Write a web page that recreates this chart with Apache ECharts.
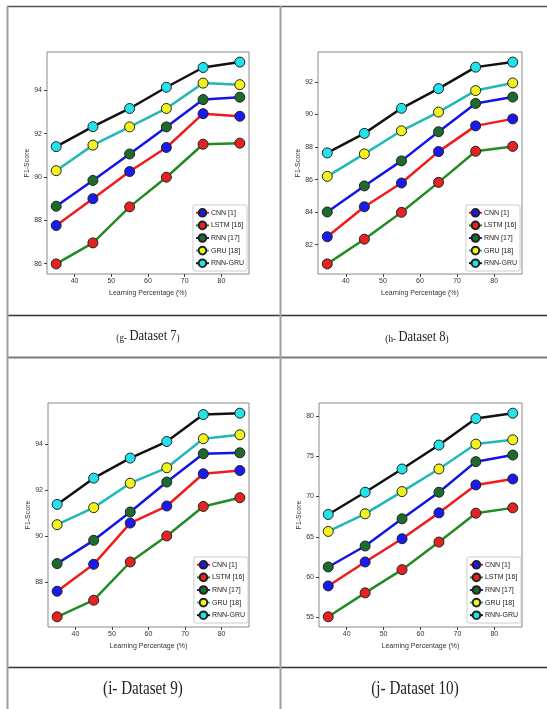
<!DOCTYPE html>
<html><head><meta charset="utf-8">
<script src="https://cdn.jsdelivr.net/npm/echarts@6/dist/echarts.min.js"></script>
<style>html,body{margin:0;padding:0;background:#fff}#c{width:547px;height:709px}</style>
</head><body><div id="c"></div>
<script>
// ---- data ----
const learningPct = [35, 45, 55, 65, 75, 85];
const seriesNames = ['CNN [1]', 'LSTM [16]', 'RNN [17]', 'GRU [18]', 'RNN-GRU'];
const xTicks = [40, 50, 60, 70, 80];

// Dataset 7
const ds7_cnn    = [87.76, 89.00, 90.25, 91.36, 92.92, 92.80];
const ds7_lstm   = [85.99, 86.96, 88.62, 89.99, 91.51, 91.56];
const ds7_rnn    = [88.65, 89.84, 91.06, 92.31, 93.57, 93.68];
const ds7_gru    = [90.29, 91.47, 92.31, 93.16, 94.33, 94.26];
const ds7_rnngru = [91.40, 92.32, 93.16, 94.14, 95.05, 95.30];
const ds7_yTicks = [86, 88, 90, 92, 94];

// Dataset 8
const ds8_cnn    = [82.49, 84.33, 85.79, 87.72, 89.30, 89.73];
const ds8_lstm   = [80.82, 82.34, 83.99, 85.83, 87.74, 88.04];
const ds8_rnn    = [84.01, 85.61, 87.15, 88.94, 90.68, 91.07];
const ds8_gru    = [86.20, 87.58, 89.00, 90.15, 91.47, 91.94];
const ds8_rnngru = [87.64, 88.84, 90.38, 91.59, 92.91, 93.22];
const ds8_yTicks = [82, 84, 86, 88, 90, 92];

// Dataset 9
const ds9_cnn    = [87.60, 88.77, 90.56, 91.30, 92.70, 92.84];
const ds9_lstm   = [86.49, 87.21, 88.87, 90.00, 91.28, 91.66];
const ds9_rnn    = [88.80, 89.81, 91.04, 92.34, 93.57, 93.61];
const ds9_gru    = [90.49, 91.23, 92.29, 92.96, 94.22, 94.39];
const ds9_rnngru = [91.37, 92.51, 93.38, 94.10, 95.27, 95.33];
const ds9_yTicks = [88, 90, 92, 94];

// Dataset 10
const ds10_cnn    = [58.91, 61.88, 64.76, 67.97, 71.43, 72.17];
const ds10_lstm   = [55.08, 58.05, 60.93, 64.35, 67.93, 68.59];
const ds10_rnn    = [61.26, 63.86, 67.23, 70.53, 74.32, 75.14];
const ds10_gru    = [65.67, 67.85, 70.61, 73.41, 76.50, 77.03];
const ds10_rnngru = [67.77, 70.53, 73.41, 76.38, 79.67, 80.33];
const ds10_yTicks = [55, 60, 65, 70, 75, 80];

const captionPrefix = ['(g-', '(h-', '(i-', '(j-'];
const captionTitle = ['Dataset 7', 'Dataset 8', 'Dataset 9', 'Dataset 10'];

// ---- styles ----
const lineColors   = ['#f01c1c', '#238b23', '#1414e6', '#22b8b8', '#111111'];
const markerColors = ['#1a1af0', '#e42222', '#1c6a2c', '#f2f21e', '#22e2ea'];

const panels = [
  { data: [ds7_cnn, ds7_lstm, ds7_rnn, ds7_gru, ds7_rnngru], yTicks: ds7_yTicks,
    grid: { left: 47, top: 52, width: 202, height: 222 }, legend: { right: 300, top: 205 },
    cap: { x: 148, y: 336, small: true } },
  { data: [ds8_cnn, ds8_lstm, ds8_rnn, ds8_gru, ds8_rnngru], yTicks: ds8_yTicks,
    grid: { left: 318, top: 52, width: 204, height: 222 }, legend: { right: 27, top: 205 },
    cap: { x: 417, y: 337, small: true } },
  { data: [ds9_cnn, ds9_lstm, ds9_rnn, ds9_gru, ds9_rnngru], yTicks: ds9_yTicks,
    grid: { left: 48, top: 403, width: 201, height: 224 }, legend: { right: 299, top: 557 },
    cap: { x: 143, y: 689, small: false } },
  { data: [ds10_cnn, ds10_lstm, ds10_rnn, ds10_gru, ds10_rnngru], yTicks: ds10_yTicks,
    grid: { left: 319, top: 403, width: 203, height: 224 }, legend: { right: 26, top: 557 },
    cap: { x: 415, y: 689, small: false } }
];

const axisFont = 'Liberation Sans';
const grid = [], xAxis = [], yAxis = [], series = [], legend = [], graphic = [];

panels.forEach((p, k) => {
  const all = [].concat(...p.data);
  const lo = Math.min(...all), hi = Math.max(...all), pad = (hi - lo) * 0.05;
  grid.push(Object.assign({ show: true, borderColor: '#8a8a8a', borderWidth: 1, backgroundColor: '#fff' }, p.grid));
  xAxis.push({
    gridIndex: k, type: 'value', min: 32.5, max: 87.5,
    name: 'Learning Percentage (%)', nameLocation: 'middle', nameGap: 16,
    nameTextStyle: { fontSize: 7, color: '#333', fontFamily: axisFont },
    axisLine: { show: false },
    axisTick: { show: true, length: 3, inside: false, customValues: xTicks, lineStyle: { color: '#444' } },
    axisLabel: { customValues: xTicks, fontSize: 7, color: '#333', margin: 4, fontFamily: axisFont },
    splitLine: { show: false }
  });
  yAxis.push({
    gridIndex: k, type: 'value', min: lo - pad, max: hi + pad,
    name: 'F1-Score', nameLocation: 'middle', nameGap: 12,
    nameTextStyle: { fontSize: 7, color: '#333', fontFamily: axisFont },
    axisLine: { show: false },
    axisTick: { show: true, length: 3, inside: false, customValues: p.yTicks, lineStyle: { color: '#444' } },
    axisLabel: { customValues: p.yTicks, fontSize: 7, color: '#333', margin: 5, fontFamily: axisFont },
    splitLine: { show: false }
  });
  p.data.forEach((vals, s) => {
    series.push({
      type: 'line', name: seriesNames[s], xAxisIndex: k, yAxisIndex: k,
      data: learningPct.map((x, i) => [x, vals[i]]),
      symbol: 'circle', symbolSize: 10,
      lineStyle: { color: lineColors[s], width: 2.5 },
      itemStyle: { color: markerColors[s], borderColor: '#222', borderWidth: 1 },
      emphasis: { disabled: true },
      animation: false
    });
  });
  legend.push({
    data: seriesNames, orient: 'vertical', right: p.legend.right, top: p.legend.top,
    itemWidth: 13, itemHeight: 9.5, itemGap: 3,
    padding: [3, 3, 3, 2], backgroundColor: '#fff', borderColor: '#cccccc', borderWidth: 1, borderRadius: 2,
    textStyle: { fontSize: 7, color: '#222', fontFamily: axisFont, padding: [0, 0, 0, -3] },
    selectedMode: false
  });
  graphic.push({
    type: 'text', x: p.cap.x, y: p.cap.y, scaleX: 0.84, z: 10,
    style: {
      text: p.cap.small ? '{s|' + captionPrefix[k] + ' }{b|' + captionTitle[k] + '}{s|)}'
                        : '{b|' + captionPrefix[k] + ' ' + captionTitle[k] + ')}',
      align: 'center', verticalAlign: 'middle',
      rich: {
        s: { fontFamily: 'Liberation Serif', fontSize: p.cap.small ? 11 : 18, fill: '#222', verticalAlign: 'bottom' },
        b: { fontFamily: 'Liberation Serif', fontSize: p.cap.small ? 15 : 18, fill: '#222', verticalAlign: 'bottom' }
      }
    }
  });
});

// table borders
const hLine = (y, c, w) => ({ type: 'line', z: 5, shape: { x1: 7, y1: y, x2: 547, y2: y }, style: { stroke: c, lineWidth: w } });
const vLine = (x, c, w) => ({ type: 'line', z: 5, shape: { x1: x, y1: 6, x2: x, y2: 709 }, style: { stroke: c, lineWidth: w } });
graphic.push(hLine(6.5, '#555', 1.5), hLine(315.5, '#333', 1.3), hLine(357.5, '#7a7a7a', 2), hLine(667.5, '#333', 1.3));
graphic.push(vLine(7.5, '#a0a0a0', 2), vLine(280.5, '#a0a0a0', 2));

const chart = echarts.init(document.getElementById('c'), null, { renderer: 'canvas' });
chart.setOption({ animation: false, backgroundColor: '#fff', grid, xAxis, yAxis, series, legend, graphic });
</script>
</body></html>
